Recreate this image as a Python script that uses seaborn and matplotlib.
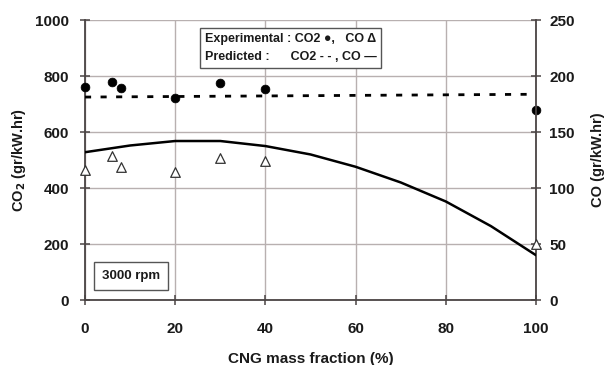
import matplotlib
matplotlib.use("Agg")
import matplotlib.pyplot as plt
import seaborn as sns
import numpy as np
import pandas as pd

# Experimental data (CNG mass fraction, %)
exp_x = [0, 6, 8, 20, 30, 40, 100]
exp_co2 = [762, 780, 757, 722, 776, 754, 680]
exp_co = [116, 129, 119, 114, 127, 124, 50]

# Model predictions
pred_x = [0, 10, 20, 30, 40, 50, 60, 70, 80, 90, 100]
pred_co2 = [725, 726, 727, 728, 729, 730, 731, 732, 733, 734, 735]
pred_co = [132, 138, 142, 142, 137.5, 130, 119, 105, 88, 66, 40]

x_ticks = [0, 20, 40, 60, 80, 100]
co2_ticks = [0, 200, 400, 600, 800, 1000]
co_ticks = [0, 50, 100, 150, 200, 250]

sns.set_theme(style="white")
plt.rcParams["font.family"] = ["Liberation Sans", "DejaVu Sans"]
plt.rcParams["font.weight"] = "bold"

axis_col = "#4a4444"
grid_col = "#b8b0b0"
text_col = "#1a1a1a"

fig = plt.figure(figsize=(6.05, 3.65), dpi=100)
ax = fig.add_axes([0.1405, 0.178, 0.7455, 0.767])
ax2 = ax.twinx()

exp_df = pd.DataFrame({"x": exp_x, "co2": exp_co2, "co": exp_co})
pred_df = pd.DataFrame({"x": pred_x, "co2": pred_co2, "co": pred_co})

sns.lineplot(data=pred_df, x="x", y="co2", ax=ax, color="black", lw=2.0,
             linestyle=(0, (2.2, 3.4)), zorder=3)
sns.scatterplot(data=exp_df, x="x", y="co2", ax=ax, color="black", s=40,
                edgecolor="black", zorder=4, clip_on=False)
sns.lineplot(data=pred_df, x="x", y="co", ax=ax2, color="black", lw=1.8, zorder=3)
sns.scatterplot(data=exp_df, x="x", y="co", ax=ax2, marker="^", s=48,
                facecolor="white", edgecolor="#333333", linewidth=0.9,
                zorder=4, clip_on=False)

ax.set_xlim(0, 100)
ax.set_ylim(0, 1000)
ax2.set_ylim(0, 250)
ax.set_xticks(x_ticks)
ax.set_yticks(co2_ticks)
ax2.set_yticks(co_ticks)

ax.grid(True, color=grid_col, lw=1.0)
ax.set_axisbelow(True)

for a in (ax, ax2):
    for s in a.spines.values():
        s.set_visible(False)
ax.spines["left"].set_visible(True)
ax.spines["bottom"].set_visible(True)
ax2.spines["right"].set_visible(True)
for s in (ax.spines["left"], ax.spines["bottom"], ax2.spines["right"]):
    s.set_color(axis_col)
    s.set_linewidth(1.3)

tick_kw = dict(direction="inout", length=7, width=1.1, color=axis_col,
               labelsize=11, labelcolor=text_col)
ax.tick_params(axis="x", bottom=True, pad=12, **tick_kw)
ax.tick_params(axis="y", left=True, pad=8, **tick_kw)
ax2.tick_params(axis="y", right=True, pad=6, **tick_kw)
for lab in ax.get_xticklabels() + ax.get_yticklabels() + ax2.get_yticklabels():
    lab.set_fontweight("bold")

ax.set_xlabel("CNG mass fraction (%)", fontsize=11, fontweight="bold",
              color=text_col, labelpad=12)
ax.set_ylabel("CO$_2$ (gr/kW.hr)", fontsize=10.5, fontweight="bold",
              color=text_col, labelpad=5)
ax2.set_ylabel("CO (gr/kW.hr)", fontsize=10.5, fontweight="bold",
               color=text_col, rotation=90, labelpad=12)

# Legend text box
ax.text(0.265, 0.955,
        "Experimental : CO2 \u25cf,   CO \u0394\nPredicted :      CO2 - - , CO \u2014",
        transform=ax.transAxes, ha="left", va="top", fontsize=9,
        fontweight="bold", color=text_col, linespacing=1.65,
        bbox=dict(boxstyle="square,pad=0.4", fc="white", ec="#555555", lw=1.0),
        zorder=6)

# Operating condition label
ax.text(0.103, 0.087, "3000 rpm", transform=ax.transAxes, ha="center",
        va="center", fontsize=9.5, fontweight="bold", color=text_col,
        bbox=dict(boxstyle="square,pad=0.6", fc="white", ec="#555555", lw=1.0),
        zorder=6)

fig.savefig("out.png", dpi=100)
